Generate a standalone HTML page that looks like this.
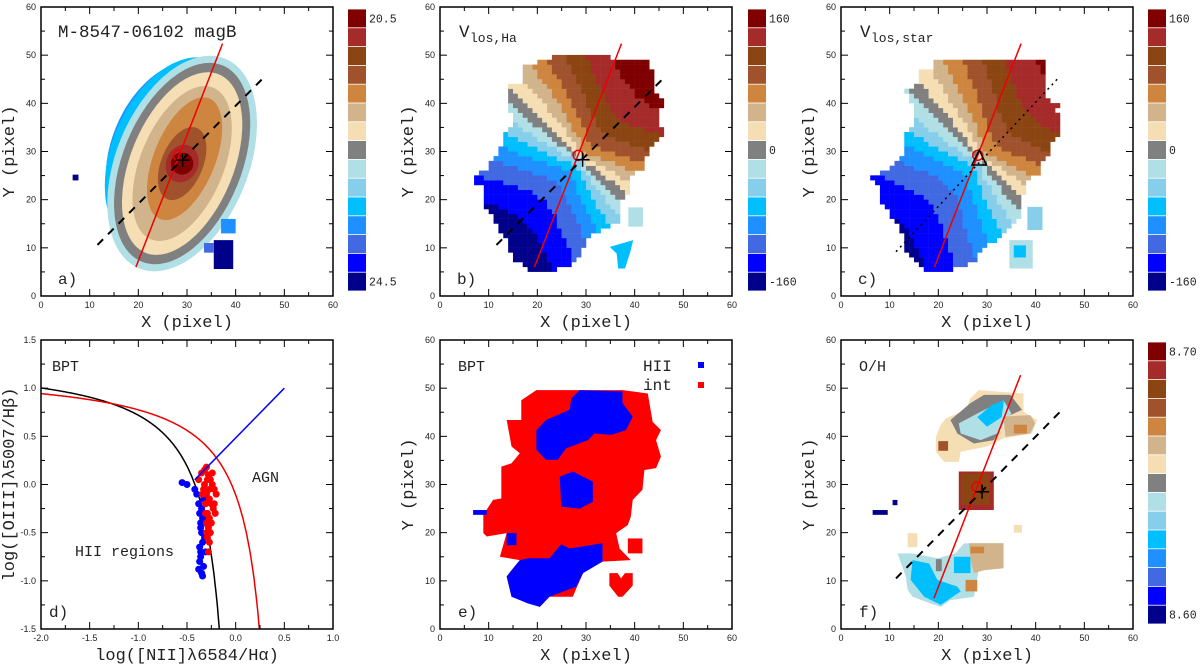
<!DOCTYPE html>
<html><head><meta charset="utf-8"><style>
body{margin:0;background:#fff}
svg text{font-family:"Liberation Mono",monospace;fill:#222}
.tk{font-family:"Liberation Sans",sans-serif;font-size:9px}
</style></head><body>
<svg id="fig" width="1200" height="667" xmlns="http://www.w3.org/2000/svg"></svg>
<script>
// ---- data ----
const cbColors=['#7f0000','#a52a2a','#8b4513','#a0522d','#cd853f','#d2b48c','#f5deb3','#808080','#b0e0e6','#87ceeb','#00bfff','#1e90ff','#4169e1','#0000ff','#00008b'];
const ticksXY=[0,10,20,30,40,50,60];
const bptXTicks=[-2.0,-1.5,-1.0,-0.5,0.0,0.5,1.0];
const bptYTicks=[-1.5,-1.0,-0.5,0.0,0.5,1.0,1.5];
// panel a: [colorIndex, semiMajor, semiMinor, dx, dy]
const magLevels=[[11,19,12,-2.5,3],[10,21,13,-1.5,2],[8,23.5,13.6,0,0],[7,22,12.2,0,0],[6,20,10.6,0,0],[5,17,8.6,0,0],[4,13.5,6.3,0.5,1],[3,8,4.3,0,0],[1,4,3.3,0,0],[0,2.3,2.3,0,0]];
const blobBraw=[[17.1,49.3],[21.2,49.6],[26,49.6],[32.2,49.6],[35.3,48.6],[40,48.6],[41.1,46.5],[41.1,43.4],[43.2,40.3],[41.8,37.2],[43.2,33.7],[41.1,31.6],[39.7,28.9],[39,26.5],[36,24],[36,21.3],[33.9,18.5],[33.9,15.4],[30.8,13.7],[28.1,12.3],[26,8.5],[24.7,6.4],[18.5,4.7],[16.8,4.7],[12,7.8],[11,11.6],[8.9,14.4],[6.8,18.5],[6.8,22],[4.1,24],[4.1,24.8],[6.8,26.1],[9.9,31],[9.9,33.7],[12,35.1],[12,37.2],[11,40.6],[11,43.4],[14,44.1],[14,47.6],[17.1,47.6]];
const blobC=[[19.5,49.3],[23.6,49.3],[28.4,49.3],[32.5,49.3],[35.3,49.3],[42.5,48.6],[42.5,40.6],[45.5,40.3],[43.5,37.9],[45.5,37.2],[45.5,33.7],[43.5,32.3],[43.5,30.3],[41.4,28.2],[40.7,25.4],[38.3,24],[38.3,21.3],[36.6,20.6],[36.6,15.7],[33.2,12.3],[29.4,10.2],[27,6.7],[20.9,4.7],[17.8,4.7],[13.3,8.8],[13,13],[11.6,14.4],[8.5,19.2],[8.5,21.6],[6.5,23.7],[6.5,24.6],[9.2,26.1],[12.7,29.6],[12.7,33.4],[14.7,35.1],[14.7,39.3],[13.3,42.7],[16.4,44.1],[16.4,47.2],[19.5,47.2]];
const redOutlineE=[[16.7,47.5],[19.8,49.6],[26.3,49.6],[28.7,49.6],[37.5,49.6],[42.7,48.9],[43.7,43],[45.4,41.3],[44.4,39.2],[45.4,35.8],[44.4,33.4],[42,33],[41.6,28.9],[39.6,26.8],[39.2,23.3],[38.6,21.6],[36.2,19.9],[36.9,16.7],[39.2,14.3],[33.4,14],[33.4,16.7],[29.4,11.6],[28,8.4],[27.3,6.7],[22.5,6.7],[20.5,4.6],[17.7,5.7],[14.7,6.7],[13.7,10.9],[14.7,12.2],[16.4,14.3],[12.3,15],[13.7,19.9],[9.6,19.2],[8.9,19.9],[8.9,23.7],[10.9,26.8],[12.6,27.1],[12.6,33.7],[14.7,34.4],[16.4,36.5],[14.7,37.9],[13.7,43.4],[16.7,43.4]];
const bluePatchesE=[
 [[19.8,41.3],[21.8,43.4],[26.6,45.5],[27,47.9],[28.7,49.6],[37.5,49.3],[37.5,46.9],[39.6,44.1],[38.2,41.3],[35.2,40.3],[31.7,40.6],[30.4,39.2],[25.9,37.5],[24.2,35.1],[21.8,35.1],[19.8,37.2]],
 [[24.6,31.6],[27.3,32.7],[31.4,30.6],[31.4,26.4],[28.7,25],[24.9,25.4]],
 [[13.7,10.9],[14.7,12.2],[16.4,14.3],[18.1,14.7],[22.5,14.7],[24.9,17.6],[26.6,16.7],[33.4,17.8],[33.4,14],[29.4,11.6],[28,8.8],[22.5,6.7],[20.5,4.6],[18.1,5.3],[14.7,6.7]],
 [[6.8,23.7],[9.6,23.7],[9.6,24.7],[6.8,24.7]],
 [[13.7,17.4],[15.7,17.4],[15.7,19.9],[13.7,19.9]]];
const bptBlueX=[-0.42,-0.4,-0.38,-0.37,-0.36,-0.35,-0.34,-0.36,-0.37,-0.38,-0.35,-0.33,-0.36,-0.34,-0.32,-0.37,-0.35,-0.33,-0.36,-0.34,-0.55,-0.5,-0.32,-0.31];
const bptBlueY=[-0.05,-0.1,-0.2,-0.3,-0.4,-0.5,-0.6,-0.7,-0.8,-0.88,-0.92,-0.85,-0.45,-0.35,-0.55,-0.65,-0.25,-0.15,-0.75,-0.95,0.02,0.0,-0.4,-0.7];
const bptRedX=[-0.38,-0.35,-0.32,-0.3,-0.28,-0.26,-0.24,-0.22,-0.2,-0.3,-0.27,-0.25,-0.23,-0.21,-0.33,-0.31,-0.29,-0.27,-0.25,-0.3,-0.28,-0.26,-0.22,-0.34,-0.32,-0.29,-0.27,-0.24,-0.31,-0.29,-0.27,-0.3,-0.28];
const bptRedY=[0.05,0.12,0.15,0.18,0.1,0.05,0.0,-0.05,-0.1,-0.1,-0.15,-0.2,-0.25,-0.3,-0.05,-0.2,-0.3,-0.35,-0.4,-0.4,-0.45,-0.5,-0.2,-0.1,0.0,0.05,-0.05,0.12,-0.3,-0.55,-0.6,-0.5,-0.7];
// ---- helpers ----
const NS='http://www.w3.org/2000/svg', svg=document.getElementById('fig');
function el(tag,attrs,parent){const e=document.createElementNS(NS,tag);for(const k in attrs)e.setAttribute(k,attrs[k]);(parent||svg).appendChild(e);return e;}
function txt(s,x,y,attrs,parent){const t=el('text',Object.assign({x:x,y:y},attrs||{}),parent);t.textContent=s;return t;}
const W=292,H=289;
function panel(name,left,top,xmin,xmax,ymin,ymax,xt,yt,fmt){
 const g=el('g',{});
 const fx=v=>left+(v-xmin)/(xmax-xmin)*W, fy=v=>top+H-(v-ymin)/(ymax-ymin)*H;
 const clipId='c'+name;const cp=el('clipPath',{id:clipId},g);el('rect',{x:left,y:top,width:W,height:H},cp);
 const inner=el('g',{'clip-path':'url(#'+clipId+')'},g);
 const data=el('g',{transform:`translate(${left},${top+H}) scale(${W/(xmax-xmin)},${-H/(ymax-ymin)}) translate(${-xmin},${-ymin})`},inner);
 return {g,inner,data,fx,fy,left,top,finish(){
  el('rect',{x:left,y:top,width:W,height:H,fill:'none',stroke:'#000','stroke-width':1.5},g);
  for(let i=0;i<xt.length-1;i++){const m=(xt[i]+xt[i+1])/2;const x=fx(m);el('line',{x1:x,x2:x,y1:top+H,y2:top+H-4,stroke:'#000'},g);el('line',{x1:x,x2:x,y1:top,y2:top+4,stroke:'#000'},g);}
  for(let i=0;i<yt.length-1;i++){const m=(yt[i]+yt[i+1])/2;const y=fy(m);el('line',{x1:left,x2:left+4,y1:y,y2:y,stroke:'#000'},g);el('line',{x1:left+W,x2:left+W-4,y1:y,y2:y,stroke:'#000'},g);}
  xt.forEach(v=>{const x=fx(v);el('line',{x1:x,x2:x,y1:top+H,y2:top+H-7,stroke:'#000'},g);el('line',{x1:x,x2:x,y1:top,y2:top+7,stroke:'#000'},g);txt(fmt(v),x,top+H+12,{class:'tk','text-anchor':'middle'},g);});
  yt.forEach(v=>{const y=fy(v);el('line',{x1:left,x2:left+7,y1:y,y2:y,stroke:'#000'},g);el('line',{x1:left+W,x2:left+W-7,y1:y,y2:y,stroke:'#000'},g);txt(fmt(v),left-5,y+3,{class:'tk','text-anchor':'end'},g);});
 }};
}
function colorbar(name,x,top,labels){
 const g=el('g',{});
 const h=(282)/cbColors.length;
 cbColors.forEach((c,i)=>el('rect',{x:x,y:top+2+i*h+0.4,width:18,height:h-0.8,fill:c},g));
 labels.forEach(l=>txt(l[0],x+21,top+2+(l[1]+0.5)*h+4,{'font-size':'11.5'},g));
}
function axisLabels(p,xl,yl){
 txt(xl,p.left+W/2,p.top+H+31,{'font-size':'17','text-anchor':'middle'},p.g);
 txt(yl,0,0,{'font-size':'17','text-anchor':'middle',transform:`translate(${p.left-27},${p.top+H/2}) rotate(-90)`},p.g);
}
function line(p,a,b,attrs){el('line',Object.assign({x1:p.fx(a[0]),y1:p.fy(a[1]),x2:p.fx(b[0]),y2:p.fy(b[1])},attrs),p.g);}
function cross(p,X,Y){const x=p.fx(X),y=p.fy(Y);el('path',{d:`M${x-7},${y}H${x+7}M${x},${y-7}V${y+7}`,stroke:'#000','stroke-width':1.5},p.g);}
function pts(a){return a.map(q=>q.join(',')).join(' ');}
function inPoly(x,y,poly){let c=false;for(let i=0,j=poly.length-1;i<poly.length;j=i++){const [xi,yi]=poly[i],[xj,yj]=poly[j];if(((yi>y)!=(yj>y))&&(x<(xj-xi)*(y-yi)/(yj-yi)+xi))c=!c;}return c;}
function velMap(p,poly,cx,cy,th0,amp){
 const t0=th0*Math.PI/180;
 for(let X=0;X<60;X++)for(let Y=0;Y<60;Y++){
  const x=X+0.5,y=Y+0.5;if(!inPoly(x,y,poly))continue;
  const dx=x-cx,dy=y-cy,r=Math.hypot(dx,dy);const th=Math.atan2(dy,dx);
  const v=Math.cos(th-t0)*Math.pow(Math.min(1,r/25),0.4)*amp;
  let idx=Math.round(7-v*7.5);idx=Math.max(0,Math.min(14,idx));
  el('rect',{x:X,y:Y,width:1.05,height:1.05,fill:cbColors[idx]},p.data);
 }
}
const f1=v=>String(v);const f2=v=>v.toFixed(1);
const L1=41,L2=440,L3=841,T1=7,T2=340;

// Panel a
let pa=panel('panel-a-magB',L1,T1,0,60,0,60,ticksXY,ticksXY,f1);
magLevels.forEach(l=>{const ge=el('g',{transform:`translate(${29+l[3]},${27.5+l[4]}) rotate(68)`},pa.data);el('ellipse',{cx:0,cy:0,rx:l[1],ry:l[2],fill:cbColors[l[0]]},ge);});
el('rect',{x:35.5,y:5.6,width:4,height:6,fill:cbColors[14]},pa.data);
el('rect',{x:33.5,y:9,width:2,height:2,fill:cbColors[12]},pa.data);
el('rect',{x:37,y:13,width:3,height:3,fill:cbColors[11]},pa.data);
el('rect',{x:6.5,y:24,width:1.2,height:1.2,fill:cbColors[14]},pa.data);
pa.finish();
line(pa,[19.5,6],[37.3,52.4],{stroke:'#e00','stroke-width':1.5});
line(pa,[11.6,10.6],[45.9,45.5],{stroke:'#000','stroke-width':2,'stroke-dasharray':'8,7'});
el('circle',{cx:pa.fx(28.2),cy:pa.fy(29.2),r:5,fill:'none',stroke:'#e00','stroke-width':1.5},pa.g);cross(pa,29.1,28.2);
txt('M-8547-06102  magB',pa.left+17,pa.top+30,{'font-size':'17.5'},pa.g);txt('a)',pa.left+17,pa.top+H-12,{'font-size':'16'},pa.g);
axisLabels(pa,'X  (pixel)','Y  (pixel)');
colorbar('colorbar-a',348,T1,[['20.5',0],['24.5',14]]);

// Panel b
let pb=panel('panel-b-vgas',L2,T1,0,60,0,60,ticksXY,ticksXY,f1);
const blobB=blobBraw.map(q=>[q[0]+2.7,q[1]]);
velMap(pb,blobB,28.8,28.5,48,1.0);
el('polygon',{points:pts([[34.9,10.2],[39.7,11.6],[39,8.8],[38,5.7],[36.6,5.7],[36.3,8.8]]),fill:cbColors[10]},pb.data);
el('rect',{x:38.7,y:14.4,width:3,height:4,fill:cbColors[8]},pb.data);
pb.finish();
line(pb,[19.4,6],[37.3,52.4],{stroke:'#e00','stroke-width':1.5});
line(pb,[11.6,10.6],[46.5,45.8],{stroke:'#000','stroke-width':2,'stroke-dasharray':'8,7'});
el('circle',{cx:pb.fx(28.4),cy:pb.fy(29.2),r:5,fill:'none',stroke:'#e00','stroke-width':1.5},pb.g);cross(pb,29.3,28.3);
txt('V',pb.left+19,pb.top+30,{'font-size':'17.5'},pb.g);txt('los,Ha',pb.left+30,pb.top+35,{'font-size':'13'},pb.g);
txt('b)',pb.left+17,pb.top+H-12,{'font-size':'16'},pb.g);axisLabels(pb,'X  (pixel)','Y  (pixel)');
colorbar('colorbar-b',748,T1,[['160',0],['0',7],['-160',14]]);

// Panel c
let pc=panel('panel-c-vstar',L3,T1,0,60,0,60,ticksXY,ticksXY,f1);
velMap(pc,blobC,28.4,28.4,42,0.93);
el('rect',{x:34.6,y:5.7,width:4.8,height:5.9,fill:cbColors[8]},pc.data);
el('rect',{x:35.5,y:8,width:2.5,height:2.5,fill:cbColors[10]},pc.data);
el('rect',{x:38.3,y:13.7,width:3.1,height:4.8,fill:cbColors[9]},pc.data);
pc.finish();
line(pc,[19.2,6],[37,52.4],{stroke:'#e00','stroke-width':1.5});
line(pc,[11.3,9.2],[44.5,45.1],{stroke:'#000','stroke-width':1.5,'stroke-dasharray':'2,4'});
el('circle',{cx:pc.fx(28.1),cy:pc.fy(29.2),r:5,fill:'none',stroke:'#e00','stroke-width':1.5},pc.g);
el('polygon',{points:`${pc.fx(28.4)},${pc.fy(30.3)} ${pc.fx(26.9)},${pc.fy(27.2)} ${pc.fx(29.9)},${pc.fy(27.2)}`,fill:'none',stroke:'#000','stroke-width':1.5},pc.g);
txt('V',pc.left+19,pc.top+30,{'font-size':'17.5'},pc.g);txt('los,star',pc.left+30,pc.top+35,{'font-size':'13'},pc.g);
txt('c)',pc.left+17,pc.top+H-12,{'font-size':'16'},pc.g);axisLabels(pc,'X  (pixel)','Y  (pixel)');
colorbar('colorbar-c',1148,T1,[['160',0],['0',7],['-160',14]]);

// Panel d (BPT diagram)
let pd=panel('panel-d-bpt',L1,T2,-2,1,-1.5,1.5,bptXTicks,bptYTicks,f2);
function curve(f,xmax,color){let d='';for(let x=-2;x<xmax;x+=0.005){const y=f(x);if(y<-1.6)break;d+=(d?'L':'M')+pd.fx(x).toFixed(1)+','+pd.fy(y).toFixed(1);}el('path',{d:d,fill:'none',stroke:color,'stroke-width':1.5},pd.inner);}
curve(x=>0.61/(x-0.05)+1.3,0.05,'#000');
curve(x=>0.61/(x-0.47)+1.19,0.47,'#e00');
line(pd,[-0.42,0.05],[0.5,1.0],{stroke:'#00f','stroke-width':1.5});
bptBlueX.forEach((x,i)=>{const c=el('circle',{cx:pd.fx(x),cy:pd.fy(bptBlueY[i]),r:3.5,fill:'#00f'},pd.inner);});
bptRedX.forEach((x,i)=>{const c=el('circle',{cx:pd.fx(x),cy:pd.fy(bptRedY[i]),r:3.5,fill:'#f00'},pd.inner);});
pd.finish();
txt('BPT',pd.left+11,pd.top+31,{'font-size':'15'},pd.g);txt('AGN',pd.left+211,pd.top+142,{'font-size':'15'},pd.g);
txt('HII regions',pd.left+34,pd.top+216,{'font-size':'15'},pd.g);txt('d)',pd.left+8,pd.top+H-12,{'font-size':'16'},pd.g);
axisLabels(pd,'log([NII]λ6584/Hα)','log([OIII]λ5007/Hβ)');

// Panel e
let pe=panel('panel-e-bpt-map',L2,T2,0,60,0,60,ticksXY,ticksXY,f1);
el('polygon',{points:pts(redOutlineE),fill:'#f00'},pe.data);
bluePatchesE.forEach(b=>el('polygon',{points:pts(b),fill:'#00f'},pe.data));
el('polygon',{points:pts([[34.8,11.6],[36.5,11.6],[37.2,10.5],[38,11.6],[39.6,11.6],[39.6,9],[37.5,6.7],[36.6,6.7],[34.8,9]]),fill:'#f00'},pe.data);
el('rect',{x:38.6,y:15.7,width:3,height:3.1,fill:'#f00'},pe.data);
pe.finish();
txt('BPT',pe.left+18,pe.top+31,{'font-size':'15'},pe.g);
txt('HII',pe.left+203,pe.top+31,{'font-size':'16'},pe.g);el('rect',{x:pe.left+258,y:pe.top+22,width:6,height:6,fill:'#00f'},pe.g);
txt('int',pe.left+203,pe.top+50,{'font-size':'16'},pe.g);el('rect',{x:pe.left+258,y:pe.top+42,width:6,height:6,fill:'#f00'},pe.g);
txt('e)',pe.left+18,pe.top+H-12,{'font-size':'16'},pe.g);axisLabels(pe,'X  (pixel)','Y  (pixel)');

// Panel f
let pf=panel('panel-f-oh',L3,T2,0,60,0,60,ticksXY,ticksXY,f1);
el('polygon',{points:pts([[19.5,39.9],[20.5,42.4],[21.5,43.7],[25.6,45.5],[26.6,47.9],[28.3,49.6],[37.5,48.9],[37.5,45.1],[40.3,43.4],[39.2,40.6],[33.4,39.6],[30,37.9],[24.6,36.8],[24.2,34.7],[21.2,34.7],[19.5,36.8]]),fill:cbColors[6]},pf.data);
el('polygon',{points:pts([[22.5,43.4],[26.6,46.9],[29.4,48.6],[34.8,48.6],[37.2,45.5],[34.1,44.1],[31.4,39.2],[27.3,38.5],[23.9,40.6]]),fill:cbColors[7]},pf.data);
el('polygon',{points:pts([[24.2,42.7],[28.7,45.1],[33.4,47.5],[35,44.8],[32.1,40.6],[28.7,39.2],[24.6,40.6]]),fill:cbColors[8]},pf.data);
el('polygon',{points:pts([[28,44],[31,46.5],[33.5,47.5],[33,44],[30,42]]),fill:cbColors[10]},pf.data);
el('polygon',{points:pts([[33.4,44.1],[38.9,44.4],[39.9,42.7],[38.9,40.6],[33.8,39.9]]),fill:cbColors[5]},pf.data);
el('rect',{x:35.5,y:40.6,width:2.7,height:1.8,fill:cbColors[4]},pf.data);
el('rect',{x:20,y:37,width:2,height:2,fill:cbColors[3]},pf.data);
el('rect',{x:24.2,y:24.7,width:7.2,height:8,fill:cbColors[1]},pf.data);
el('rect',{x:24.6,y:25.8,width:6,height:6.5,fill:cbColors[2]},pf.data);
el('rect',{x:6.5,y:23.7,width:3.1,height:1,fill:cbColors[14]},pf.data);
el('rect',{x:10.6,y:25.7,width:1,height:1.1,fill:cbColors[14]},pf.data);
el('polygon',{points:pts([[13.3,10.9],[11.6,15.7],[14.7,15.7],[19.8,14.7],[23.5,15.7],[25.3,17.8],[33.4,17.8],[33.4,12.6],[28.3,12.2],[27.3,6.7],[22.5,6],[20.5,4.6],[18.4,5.3],[14.7,6.7],[13.7,8.1]]),fill:cbColors[8]},pf.data);
el('polygon',{points:pts([[14.7,14.3],[18.1,13.6],[19.8,10.2],[23.9,8.8],[24.6,7.8],[20.5,5],[17.1,6.7],[14.3,10.2]]),fill:cbColors[10]},pf.data);
el('rect',{x:23.2,y:11.6,width:3.4,height:3.4,fill:cbColors[10]},pf.data);
el('polygon',{points:pts([[26.3,17.8],[33.4,17.8],[33.4,12.6],[29.4,12.2],[27.3,11.6],[26.6,14.5]]),fill:cbColors[5]},pf.data);
el('rect',{x:26.6,y:15.7,width:2.8,height:1.4,fill:cbColors[4]},pf.data);
el('rect',{x:25.6,y:7.8,width:2.4,height:2.4,fill:cbColors[4]},pf.data);
el('rect',{x:19.5,y:12,width:1.2,height:2.5,fill:cbColors[7]},pf.data);
el('rect',{x:13.7,y:17,width:2,height:2.9,fill:cbColors[6]},pf.data);
el('rect',{x:35.5,y:20,width:1.7,height:1.6,fill:cbColors[6]},pf.data);
pf.finish();
line(pf,[19.1,6.4],[36.9,52.7],{stroke:'#e00','stroke-width':1.5});
line(pf,[11.3,10.5],[45.7,45.8],{stroke:'#000','stroke-width':2,'stroke-dasharray':'8,7'});
el('circle',{cx:pf.fx(27.9),cy:pf.fy(29.5),r:5,fill:'none',stroke:'#e00','stroke-width':1.5},pf.g);cross(pf,29,28.5);
txt('O/H',pf.left+18,pf.top+31,{'font-size':'15'},pf.g);txt('f)',pf.left+18,pf.top+H-12,{'font-size':'16'},pf.g);
axisLabels(pf,'X  (pixel)','Y  (pixel)');
colorbar('colorbar-f',1148,T2,[['8.70',0],['8.60',14]]);
</script>
</body></html>
